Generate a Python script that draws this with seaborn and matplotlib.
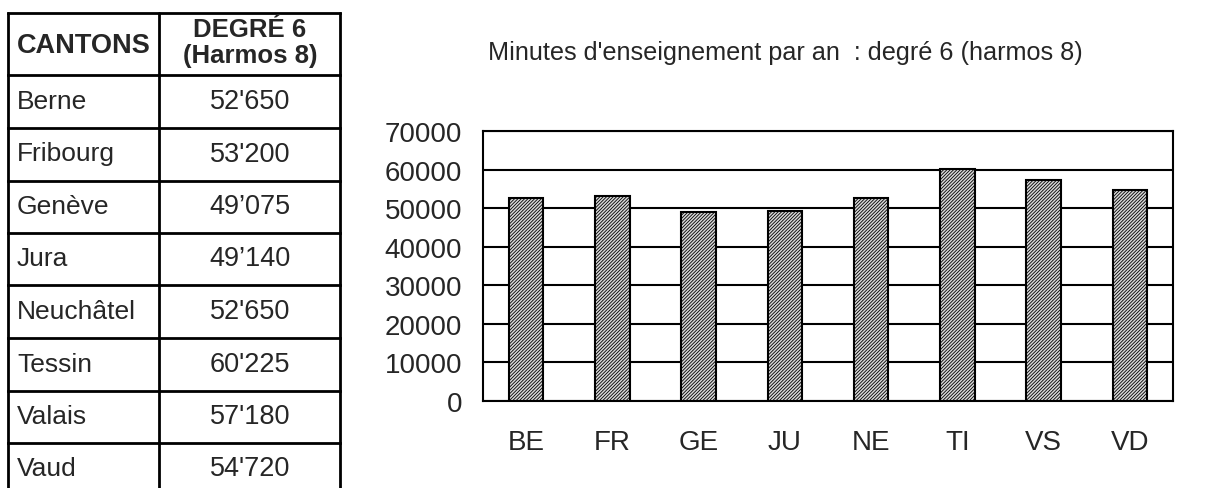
# Minutes d'enseignement par an : degré 6 (harmos 8)
#
# python plot.py


import matplotlib
matplotlib.use('Agg')
import matplotlib.pyplot as plt
import pandas as pd
import seaborn as sns


cantons = ['Berne', 'Fribourg', 'Genève', 'Jura', 'Neuchâtel', 'Tessin', 'Valais', 'Vaud']
codes = ['BE', 'FR', 'GE', 'JU', 'NE', 'TI', 'VS', 'VD']
minutes = [52650, 53200, 49075, 49140, 52650, 60225, 57180, 54720]
labels_table = ["52'650", "53'200", "49’075", "49’140", "52'650", "60'225", "57'180", "54'720"]
y_ticks = [0, 10000, 20000, 30000, 40000, 50000, 60000, 70000]

title = "Minutes d'enseignement par an  : degré 6 (harmos 8)"


sns.set_theme(style='white')
plt.rcParams['font.family'] = ['Liberation Sans', 'DejaVu Sans']
plt.rcParams['hatch.linewidth'] = 0.6

fig = plt.figure(figsize=(12.26, 4.89), dpi=100)

# table on the left, drawn in pixel coordinates
ax_t = fig.add_axes([0, 0, 1, 1])
ax_t.set_xlim(0, 1226)
ax_t.set_ylim(489, 0)
ax_t.axis('off')

row_lines = [14, 76, 129, 182, 234, 286, 339, 392, 444]
for y in row_lines:
    ax_t.plot([8, 340], [y, y], color='black', lw=2, solid_capstyle='projecting')
for x in [8, 159, 340]:
    ax_t.plot([x, x], [14, 489], color='black', lw=2)

ax_t.text(17, 46, 'CANTONS', fontsize=19.5, fontweight='bold', ha='left', va='center')
ax_t.text(250, 43, 'DEGRÉ 6\n(Harmos 8)', fontsize=18.5, fontweight='bold', ha='center',
          va='center', linespacing=1.15)
for i, (name, val) in enumerate(zip(cantons, labels_table)):
    yc = 102 + i * 52.5
    ax_t.text(17, yc, name, fontsize=19, ha='left', va='center')
    ax_t.text(250, yc, val, fontsize=19.5, ha='center', va='center')

ax_t.text(785, 53, title, fontsize=18.2, ha='center', va='center')

# bar chart
ax = fig.add_axes([483 / 1226, 1 - 402 / 489, 690 / 1226, 270 / 489])
df = pd.DataFrame({'canton': codes, 'minutes': minutes})
sns.barplot(data=df, x='canton', y='minutes', ax=ax, color='#d8d8d8', edgecolor='black',
            linewidth=1.5, width=0.4, zorder=3)
for p in ax.patches:
    p.set_hatch('//////////')

ax.set_ylim(0, 70000)
ax.set_xlim(-0.5, len(codes) - 0.5)
ax.set_yticks(y_ticks)
ax.set_yticklabels([str(t) for t in y_ticks])
ax.yaxis.grid(True, color='black', lw=1.5, zorder=0)
ax.set_axisbelow(True)
ax.set_xlabel('')
ax.set_ylabel('')
ax.tick_params(axis='y', length=0, pad=15, labelsize=20)
ax.tick_params(axis='x', length=0, pad=20, labelsize=20)
for s in ax.spines.values():
    s.set_visible(True)
    s.set_color('black')
    s.set_linewidth(1.5)

plt.savefig('out.png', dpi=100)
